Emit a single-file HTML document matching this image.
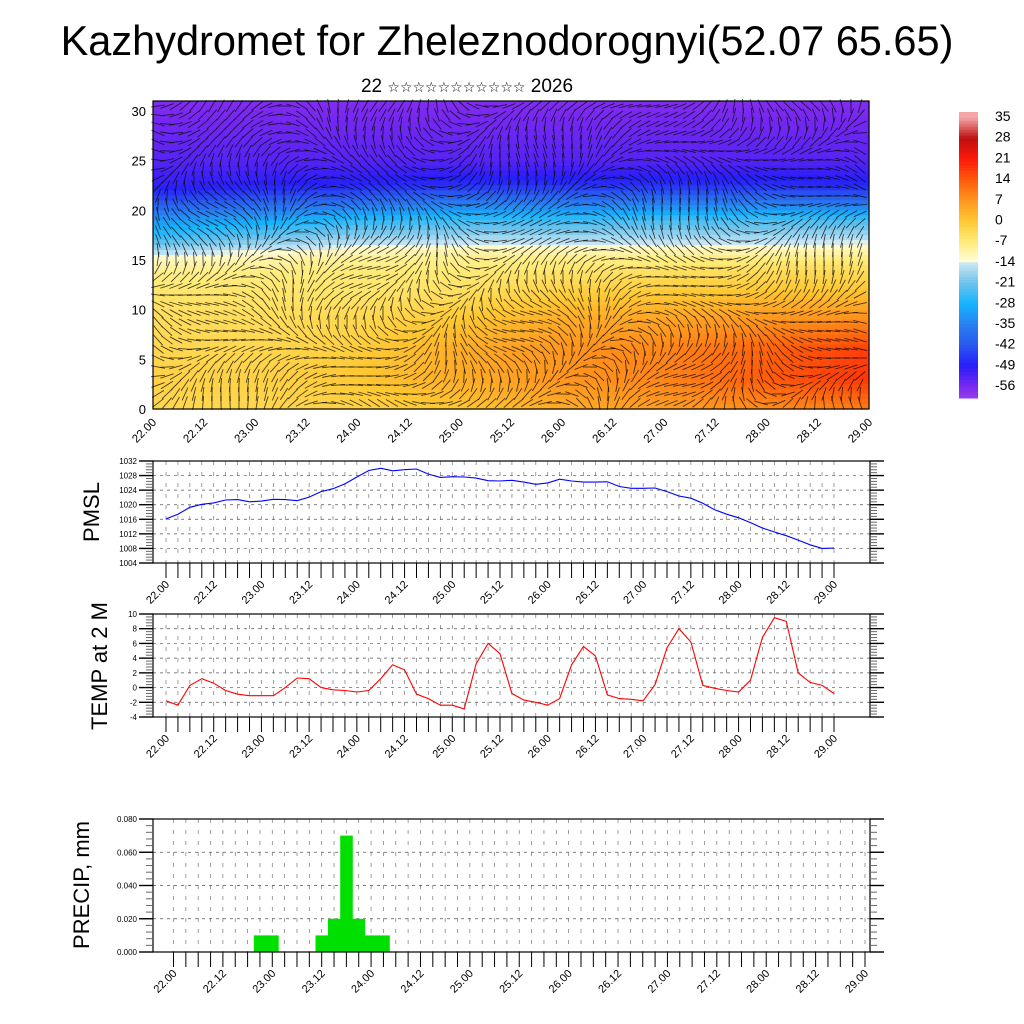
<!DOCTYPE html>
<html><head><meta charset="utf-8"><title>Kazhydromet meteogram</title>
<style>
html,body{margin:0;padding:0;background:#fff;}
svg{display:block;font-family:"Liberation Sans",Arial,sans-serif;}
</style></head>
<body>
<svg id="root" width="1024" height="1024" viewBox="0 0 1024 1024">
<rect width="1024" height="1024" fill="#fff"/>
<text x="507" y="55" font-size="41.5" text-anchor="middle">Kazhydromet for Zheleznodorognyi(52.07 65.65)</text>
<text x="467" y="92" font-size="19" text-anchor="middle">22 <tspan font-size="14" font-family="DejaVu Sans">☆☆☆☆☆☆☆☆☆☆☆</tspan> 2026</text>
<g id="top"></g>
<g id="cbar"></g>
<g id="pmsl"></g>
<g id="temp"></g>
<g id="precip"></g>
<text transform="translate(99,512) rotate(-90)" font-size="22" text-anchor="middle">PMSL</text>
<text transform="translate(107,666) rotate(-90)" font-size="22" text-anchor="middle">TEMP at 2 M</text>
<text transform="translate(89,885) rotate(-90)" font-size="22" text-anchor="middle">PRECIP, mm</text>
</svg>
<script>
const NS="http://www.w3.org/2000/svg";
const xLabels=["22.00","22.12","23.00","23.12","24.00","24.12","25.00","25.12","26.00","26.12","27.00","27.12","28.00","28.12","29.00"];
const pmslValues=[1016.1,1017.4,1019.3,1020.1,1020.5,1021.3,1021.4,1020.8,1021,1021.5,1021.4,1021.1,1022.1,1023.6,1024.4,1025.7,1027.6,1029.4,1030,1029.3,1029.6,1029.8,1028.4,1027.5,1027.7,1027.6,1027.3,1026.6,1026.5,1026.7,1026.2,1025.6,1026,1027,1026.5,1026.2,1026.2,1026.3,1025,1024.5,1024.5,1024.6,1023.6,1022.4,1021.8,1020.4,1018.6,1017.4,1016.4,1015.1,1013.6,1012.5,1011.5,1010.3,1009,1008,1008.1];
const pmslTicks=[1004,1008,1012,1016,1020,1024,1028,1032];
const tempValues=[-1.8,-2.4,0.3,1.2,0.6,-0.4,-0.9,-1.1,-1.1,-1.1,0,1.3,1.2,0,-0.3,-0.4,-0.6,-0.4,1.2,3.1,2.4,-0.9,-1.5,-2.4,-2.4,-2.9,3.2,6,4.6,-0.8,-1.7,-2,-2.4,-1.5,3.1,5.6,4.3,-1,-1.5,-1.6,-1.8,0.4,5.4,8,6.2,0.3,-0.1,-0.4,-0.6,1.0,6.8,9.5,9.0,2.0,0.7,0.3,-0.8];
const tempTicks=[-4,-2,0,2,4,6,8,10];
const precipValues=[0,0,0,0,0,0,0,0.01,0.01,0,0,0,0.01,0.02,0.07,0.02,0.01,0.01,0,0,0,0,0,0,0,0,0,0,0,0,0,0,0,0,0,0,0,0,0,0,0,0,0,0,0,0,0,0,0,0,0,0,0,0,0,0,0];
const precipTicks=[0,0.02,0.04,0.06,0.08];
const precipTickLabels=["0.000","0.020","0.040","0.060","0.080"];
const heightTicks=[0,5,10,15,20,25,30];
const cbarLabels=[35,28,21,14,7,0,-7,-14,-21,-28,-35,-42,-49,-56];
const fieldHeights=[0,3,6,9,12,14,15.5,17,19,21,22.5,25,31];
const fieldRow0=[-3,-3,-2,0,4,6,8,10];
const fieldRow1=[-2,-2,0,4,7,9,14,18];
const fieldRow2=[-3,-3,-1,4,7,9,13,17];
const fieldRow3=[-4,-4,-3,0,4,5,7,8];
const fieldRow4=[-6,-6,-6,-5,-2,-1,0,0];
const fieldRow5=[-9,-8,-7,-7,-6,-5,-4,-4];
const fieldRow6=[-14,-12,-10,-9,-9,-9,-9,-9];
const fieldRow7=[-24,-20,-17,-16,-16,-16,-16,-15];
const fieldRow8=[-32,-30,-26,-25,-25,-24,-24,-24];
const fieldRow9=[-44,-42,-40,-38,-38,-38,-38,-40];
const fieldRow10=[-50,-49,-48,-47,-47,-47,-47,-48];
const fieldRow11=[-53,-53,-53,-53,-53,-53,-53,-53];
const fieldRow12=[-57,-57,-57,-57,-57,-57,-57,-57];
const fieldRows=[fieldRow0,fieldRow1,fieldRow2,fieldRow3,fieldRow4,fieldRow5,fieldRow6,fieldRow7,fieldRow8,fieldRow9,fieldRow10,fieldRow11,fieldRow12];

function mk(tag,attrs,parent){const e=document.createElementNS(NS,tag);for(const k in attrs)e.setAttribute(k,attrs[k]);if(parent)parent.appendChild(e);return e;}
const cmapStops=[[-60,[150,60,235]],[-56,[120,40,240]],[-49,[40,30,250]],[-42,[40,90,240]],[-35,[40,130,240]],[-28,[20,180,255]],[-21,[110,195,235]],[-14.5,[200,230,245]],[-13.5,[255,252,215]],[-7,[255,235,120]],[0,[255,200,50]],[7,[255,150,30]],[14,[255,90,10]],[21,[255,25,10]],[28,[190,15,15]],[35,[245,165,165]]];
function cmap(v){if(v<=cmapStops[0][0])return cmapStops[0][1];for(let i=1;i<cmapStops.length;i++){if(v<=cmapStops[i][0]){const a=cmapStops[i-1],b=cmapStops[i],f=(v-a[0])/(b[0]-a[0]);return a[1].map((c,j)=>Math.round(c+(b[1][j]-c)*f));}}return cmapStops[cmapStops.length-1][1];}
function rgb(c){return "rgb("+c.join(",")+")";}
function field(day,h){let r=0;while(r<fieldHeights.length-2&&h>fieldHeights[r+1])r++;const fh=Math.max(0,Math.min(1,(h-fieldHeights[r])/(fieldHeights[r+1]-fieldHeights[r])));let c=Math.min(6,Math.floor(day));const fd=day-c;const a=fieldRows[r][c]+(fieldRows[r][c+1]-fieldRows[r][c])*fd;const b=fieldRows[r+1][c]+(fieldRows[r+1][c+1]-fieldRows[r+1][c])*fd;return a+(b-a)*fh;}

(function(){
const g=document.getElementById('top');
const L=153,R=869,T=101,B=409;
const xd=d=>L+(R-L)*d/7, yh=h=>B-(B-111)*h/30;
const nx=72,ny=62;
const cw=(R-L)/nx,ch=(B-T)/ny;
for(let i=0;i<nx;i++)for(let j=0;j<ny;j++){
 const d=(i+0.5)/nx*7, h=(B-(T+(j+0.5)*ch))/((B-111)/30);
 const r=mk('rect',{x:(L+i*cw).toFixed(2),y:(T+j*ch).toFixed(2),width:(cw+0.6).toFixed(2),height:(ch+0.6).toFixed(2),fill:rgb(cmap(field(d,h)))},g);
 
 
}
const sg=mk('g',{stroke:'rgba(10,10,10,0.75)','stroke-width':'0.9',fill:'none'},g);


for(let x=L+5;x<R;x+=9)for(let y=T+5;y<B;y+=9){
 const a=Math.sin(x*0.021)*1.2+Math.cos(y*0.035+x*0.008)*1.1+Math.sin((x+y)*0.013)*0.7;
 const len=7;
 mk('line',{x1:(x-Math.cos(a)*len).toFixed(1),y1:(y-Math.sin(a)*len).toFixed(1),x2:(x+Math.cos(a)*len).toFixed(1),y2:(y+Math.sin(a)*len).toFixed(1)},sg);
}
const fr=mk('rect',{x:L,y:T,width:R-L,height:B-T,fill:'none',stroke:'#000','stroke-width':1.2},g);


heightTicks.forEach(h=>{const t=mk('text',{x:L-7,y:yh(h)+5,'font-size':13,'text-anchor':'end'},g);t.textContent=h;
 
 });
xLabels.forEach((lab,i)=>{const x=xd(i*0.5);const t=mk('text',{transform:`translate(${x+4},${B+14}) rotate(-45)`,'font-size':11.5,'text-anchor':'end'},g);t.textContent=lab;
 
 });
})();

(function(){
const g=document.getElementById('cbar');
const X=959,W=19,T=112,B=398,vmax=37,vmin=-60;
const n=97;
for(let k=0;k<n;k++){const v=vmax-(k+0.5)*(vmax-vmin)/n;const r=mk('rect',{x:X,y:(T+k*(B-T)/n).toFixed(2),width:W,height:((B-T)/n+0.5).toFixed(2),fill:rgb(cmap(v))},g);
 
 }
cbarLabels.forEach((v,i)=>{const t=mk('text',{x:995,y:121+i*20.7,'font-size':14},g);t.textContent=v;
 
 });
})();

function panel(id,cfg){
const g=document.getElementById(id);
const {L,R,T,B,x0,x1,ymin,ymax}=cfg;
const N=57;
const xs=i=>x0+(x1-x0)*i/(N-1);
const ys=v=>B-(B-T)*(v-ymin)/(ymax-ymin);
const grid=mk('g',{stroke:'#555','stroke-width':0.7,'stroke-dasharray':'3,4'},g);


for(let i=0;i<N;i++)mk('line',{x1:xs(i),x2:xs(i),y1:T,y2:B,'stroke-dasharray':'4,7','stroke':'#777'},grid);
cfg.ticks.forEach(v=>mk('line',{x1:L,x2:R,y1:ys(v),y2:ys(v)},grid));
cfg.draw(g,xs,ys);
const fr=mk('rect',{x:L,y:T,width:R-L,height:B-T,fill:'none',stroke:'#000','stroke-width':1.2},g);


const tk=mk('g',{stroke:'#000','stroke-width':1},g);


const tks=cfg.ticks, step=tks[1]-tks[0];
for(let k=0;k<tks.length;k++){const y=ys(tks[k]);
 mk('line',{x1:L-14,x2:L,y1:y,y2:y,'stroke-width':1.4},tk);mk('line',{x1:R,x2:R+14,y1:y,y2:y,'stroke-width':1.4},tk);
 if(k<tks.length-1)for(let m=1;m<5;m++){const ym=ys(tks[k]+step*m/5);mk('line',{x1:L-7,x2:L,y1:ym,y2:ym,stroke:'#666'},tk);mk('line',{x1:R,x2:R+7,y1:ym,y2:ym,stroke:'#666'},tk);}
 const t=mk('text',{x:L-16,y:y+3,'font-size':8,'text-anchor':'end',stroke:'none'},g);t.textContent=cfg.tickLabels?cfg.tickLabels[k]:tks[k];
 
 
}
for(let i=0;i<N;i++)mk('line',{x1:xs(i),x2:xs(i),y1:B,y2:B+15},tk);
xLabels.forEach((lab,j)=>{const x=xs(j*4);const t=mk('text',{transform:`translate(${x+4},${B+22}) rotate(-45)`,'font-size':11,'text-anchor':'end'},g);t.textContent=lab;
 
 });
}
function linePath(vals,xs,ys){return vals.map((v,i)=>(i?'L':'M')+xs(i).toFixed(1)+','+ys(v).toFixed(1)).join('');}

panel('pmsl',{L:153,R:870,T:461,B:563,x0:166,x1:834,ymin:1004,ymax:1032,ticks:pmslTicks,draw:(g,xs,ys)=>{
 const p=mk('path',{d:linePath(pmslValues,xs,ys),fill:'none',stroke:'#0000ff','stroke-width':1.1},g);
 
 }});
panel('temp',{L:153,R:870,T:614,B:717,x0:166,x1:834,ymin:-4,ymax:10,ticks:tempTicks,draw:(g,xs,ys)=>{
 const p=mk('path',{d:linePath(tempValues,xs,ys),fill:'none',stroke:'#ff0000','stroke-width':1.1},g);
 
 }});
panel('precip',{L:153,R:870,T:819,B:952,x0:173.5,x1:865,ymin:0,ymax:0.08,ticks:precipTicks,tickLabels:precipTickLabels,draw:(g,xs,ys)=>{
 const w=xs(1)-xs(0);
 precipValues.forEach((v,i)=>{if(v<=0)return;const r=mk('rect',{x:(xs(i)-w/2).toFixed(1),y:ys(v).toFixed(1),width:(w+0.3).toFixed(1),height:(ys(0)-ys(v)).toFixed(1),fill:'#00e000'},g);
  
  });}});
</script>
</body></html>
